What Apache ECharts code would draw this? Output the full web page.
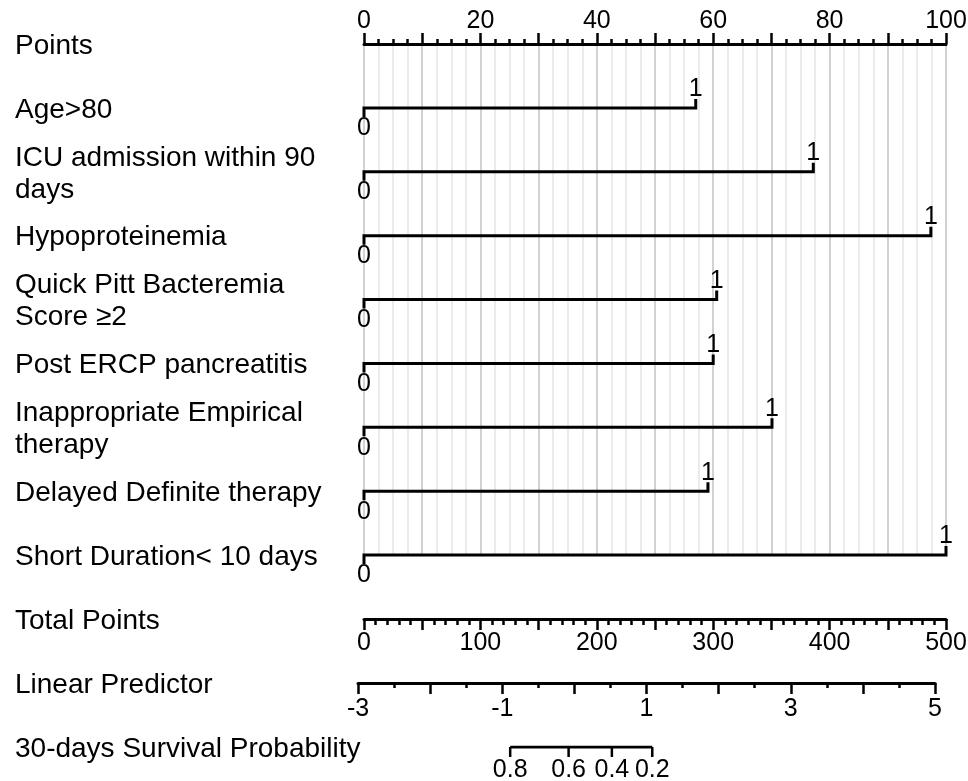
<!DOCTYPE html>
<html>
<head>
<meta charset="utf-8">
<script src="https://cdn.jsdelivr.net/npm/echarts@6/dist/echarts.min.js"></script>
<style>
html,body{margin:0;padding:0;background:#fff;}
#chart{width:968px;height:781px;}
</style>
</head>
<body>
<div id="chart"></div>
<script>
// ---- data ----
const variables = [
  'Age>80',
  'ICU admission within 90\ndays',
  'Hypoproteinemia',
  'Quick Pitt Bacteremia\nScore \u22652',
  'Post ERCP pancreatitis',
  'Inappropriate Empirical\ntherapy',
  'Delayed Definite therapy',
  'Short Duration< 10 days'
];
const pointsAtLevel1 = [57.0, 77.2, 97.4, 60.6, 60.0, 70.1, 59.1, 100];
const levelLabels = ['0', '1'];
const pointsTickLabels = [0, 20, 40, 60, 80, 100];
const totalTickLabels = [0, 100, 200, 300, 400, 500];
const lpTickLabels = [-3, -1, 1, 3, 5];
const survLabels = ['0.8', '0.6', '0.4', '0.2'];
const survLinearPredictor = [-0.89, -0.08, 0.52, 1.08];
const rowLabels = ['Points'].concat(variables, ['Total Points', 'Linear Predictor', '30-days Survival Probability']);

const FONT = 'Liberation Sans';
const TICK_FS = 25;
const chart = echarts.init(document.getElementById('chart'), null, {renderer: 'canvas'});

const blackLine = {color: '#000', width: 3};
const tickStyle = {color: '#000', width: 2.5};

const varData = variables.map((name, i) => [pointsAtLevel1[i], i + 1, name]);

const option = {
  backgroundColor: '#fff',
  animation: false,
  grid: [
    {left: 364, width: 582, top: 44, height: 511, outerBoundsMode: 'none'},   // 0 points + variables
    {left: 364, width: 10, top: 46, height: 703, outerBoundsMode: 'none'},    // 1 row labels
    {left: 364, width: 582, top: 599, height: 20, outerBoundsMode: 'none'},   // 2 total points
    {left: 358, width: 577, top: 663, height: 20, outerBoundsMode: 'none'},   // 3 linear predictor
    {left: 358, width: 577, top: 747, height: 10, outerBoundsMode: 'none'}    // 4 survival
  ],
  xAxis: [
    {
      gridIndex: 0, type: 'value', position: 'top', min: 0, max: 100, interval: 10,
      axisLine: {show: true, lineStyle: blackLine},
      axisTick: {show: true, length: 11, lineStyle: tickStyle},
      minorTick: {show: true, splitNumber: 4, length: 5, lineStyle: tickStyle},
      splitLine: {show: true, lineStyle: {color: '#d2d2d2', width: 2}},
      minorSplitLine: {show: true, lineStyle: {color: '#ebebeb', width: 2}},
      axisLabel: {
        show: true, margin: 10, color: '#000', fontSize: TICK_FS, fontFamily: FONT, hideOverlap: false,
        formatter: v => pointsTickLabels.indexOf(v) >= 0 ? String(v) : ''
      }
    },
    {gridIndex: 1, type: 'value', show: false, min: 0, max: 1},
    {
      gridIndex: 2, type: 'value', position: 'bottom', min: 0, max: 500, interval: 50,
      axisLine: {show: true, lineStyle: blackLine},
      axisTick: {show: true, length: 11, lineStyle: tickStyle},
      minorTick: {show: true, splitNumber: 5, length: 6, lineStyle: tickStyle},
      splitLine: {show: false},
      axisLabel: {
        show: true, margin: 12, color: '#000', fontSize: TICK_FS, fontFamily: FONT, hideOverlap: false,
        formatter: v => totalTickLabels.indexOf(v) >= 0 ? String(v) : ''
      }
    },
    {
      gridIndex: 3, type: 'value', position: 'bottom', min: -3, max: 5, interval: 1,
      axisLine: {show: true, lineStyle: blackLine},
      axisTick: {show: true, length: 11, lineStyle: tickStyle},
      minorTick: {show: true, splitNumber: 2, length: 5, lineStyle: tickStyle},
      splitLine: {show: false},
      axisLabel: {
        show: true, margin: 14, color: '#000', fontSize: TICK_FS, fontFamily: FONT, hideOverlap: false,
        formatter: v => lpTickLabels.indexOf(v) >= 0 ? String(v) : ''
      }
    },
    {gridIndex: 4, type: 'value', show: false, min: -3, max: 5}
  ],
  yAxis: [
    {gridIndex: 0, type: 'value', show: false, min: 0, max: 8, inverse: true},
    {
      gridIndex: 1, type: 'category', data: rowLabels, inverse: true, boundaryGap: false,
      axisLine: {show: false}, axisTick: {show: false}, splitLine: {show: false},
      axisLabel: {
        interval: 0, align: 'left', margin: 349, color: '#000', fontSize: 28,
        lineHeight: 32, fontFamily: FONT, hideOverlap: false
      }
    },
    {gridIndex: 2, type: 'value', show: false, min: 0, max: 1},
    {gridIndex: 3, type: 'value', show: false, min: 0, max: 1},
    {gridIndex: 4, type: 'value', show: false, min: 0, max: 1, inverse: true}
  ],
  series: [
    {
      type: 'custom', xAxisIndex: 0, yAxisIndex: 0, clip: false,
      data: varData,
      renderItem: function (params, api) {
        const v = api.value(0), row = api.value(1);
        const p0 = api.coord([0, row]);
        const p1 = api.coord([v, row]);
        const t = 9;
        const font = TICK_FS + 'px "' + FONT + '"';
        return {
          type: 'group',
          children: [
            {type: 'polyline', shape: {points: [[p0[0], p0[1] + t], [p0[0], p0[1]], [p1[0], p1[1]], [p1[0], p1[1] - t]]},
             style: {stroke: '#000', lineWidth: 3, fill: null}},
            {type: 'text', x: p0[0], y: p0[1] + t - 1,
             style: {text: levelLabels[0], font: font, fill: '#000', align: 'center', verticalAlign: 'top'}},
            {type: 'text', x: p1[0], y: p1[1] - t + 3,
             style: {text: levelLabels[1], font: font, fill: '#000', align: 'center', verticalAlign: 'bottom'}}
          ]
        };
      }
    },
    {
      type: 'line', xAxisIndex: 4, yAxisIndex: 4, symbol: 'none', silent: true,
      data: [[survLinearPredictor[0], 0], [survLinearPredictor[survLinearPredictor.length - 1], 0]],
      lineStyle: {color: '#000', width: 3}
    },
    {
      type: 'custom', xAxisIndex: 4, yAxisIndex: 4, clip: false,
      data: survLinearPredictor.map((lp, i) => [lp, 0, survLabels[i]]),
      renderItem: function (params, api) {
        const p = api.coord([api.value(0), 0]);
        const font = TICK_FS + 'px "' + FONT + '"';
        return {
          type: 'group',
          children: [
            {type: 'line', shape: {x1: p[0], y1: p[1], x2: p[0], y2: p[1] + 10}, style: {stroke: '#000', lineWidth: 2.5}},
            {type: 'text', x: p[0], y: p[1] + 11,
             style: {text: survLabels[params.dataIndex], font: font, fill: '#000', align: 'center', verticalAlign: 'top'}}
          ]
        };
      }
    }
  ]
};
chart.setOption(option);
</script>
</body>
</html>
